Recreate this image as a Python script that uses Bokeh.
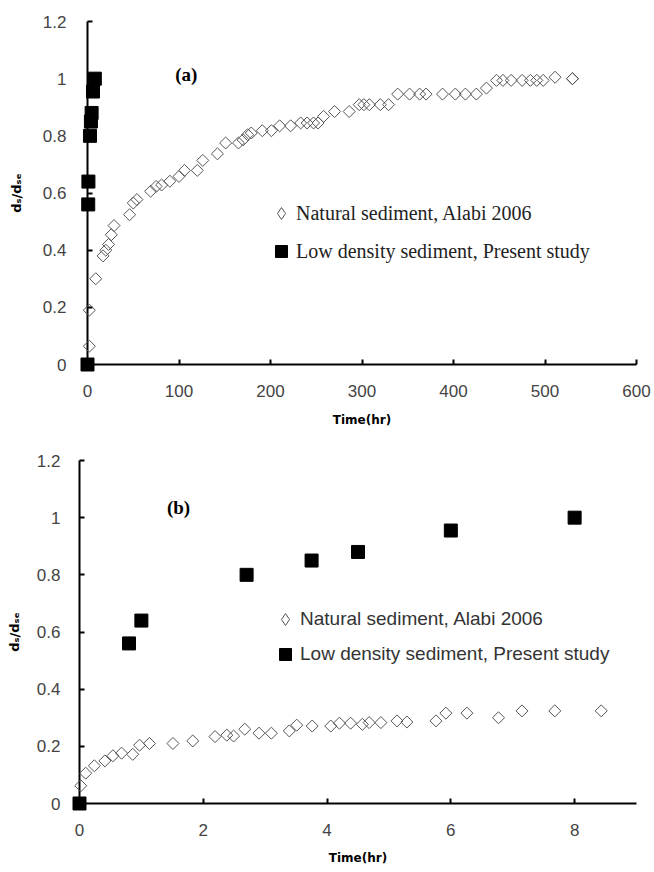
import numpy as np
from bokeh.plotting import figure
from bokeh.models import Range1d, FixedTicker, Legend, LegendItem, Label
from bokeh.embed import file_html
from bokeh.resources import INLINE

# ---------------- data ----------------
series_names = ["Natural sediment, Alabi 2006", "Low density sediment, Present study"]

# panel (a): natural sediment (hours, ds/dse)
nat_a_t = [2, 2, 9, 17, 20, 23, 26, 29, 46, 50, 54, 69, 75, 81, 90, 100, 106, 120, 126,
           142, 151, 165, 170, 175, 179, 191, 201, 210, 222, 233, 240, 247, 252, 258,
           270, 286, 297, 302, 308, 320, 329, 339, 352, 363, 370, 388, 402, 413, 425,
           436, 447, 454, 463, 475, 484, 491, 498, 511, 530, 530]
nat_a_y = [0.064, 0.19, 0.30, 0.38, 0.40, 0.42, 0.454, 0.486, 0.524, 0.565, 0.577, 0.606,
           0.623, 0.628, 0.641, 0.658, 0.679, 0.679, 0.714, 0.737, 0.775, 0.775, 0.786,
           0.804, 0.81, 0.818, 0.818, 0.835, 0.835, 0.845, 0.845, 0.845, 0.845, 0.868,
           0.885, 0.885, 0.909, 0.909, 0.909, 0.909, 0.909, 0.946, 0.946, 0.946, 0.946,
           0.946, 0.946, 0.946, 0.946, 0.967, 0.994, 0.994, 0.994, 0.994, 0.994, 0.994,
           0.994, 1.005, 1.0, 1.0]

# panel (b): natural sediment, first hours
nat_b_t = [0.02, 0.10, 0.24, 0.41, 0.54, 0.68, 0.86, 0.97, 1.13, 1.51, 1.83, 2.19, 2.38,
           2.49, 2.67, 2.90, 3.10, 3.39, 3.51, 3.76, 4.06, 4.20, 4.38, 4.57, 4.68, 4.87,
           5.13, 5.29, 5.76, 5.92, 6.26, 6.77, 7.15, 7.68, 8.43]
nat_b_y = [0.062, 0.106, 0.132, 0.149, 0.167, 0.176, 0.172, 0.204, 0.21, 0.21, 0.219,
           0.234, 0.239, 0.236, 0.26, 0.246, 0.246, 0.254, 0.274, 0.271, 0.271, 0.281,
           0.281, 0.277, 0.283, 0.283, 0.289, 0.285, 0.289, 0.316, 0.316, 0.30, 0.324,
           0.324, 0.324]

# low density sediment (present study)
low_t = [0, 0.8, 1.0, 2.7, 3.75, 4.5, 6.0, 8.0]
low_y = [0, 0.56, 0.64, 0.80, 0.85, 0.88, 0.955, 1.0]

y_ticks = [0, 0.2, 0.4, 0.6, 0.8, 1.0, 1.2]
y_tick_labels = ["0", "0.2", "0.4", "0.6", "0.8", "1", "1.2"]
x_ticks_a = [0, 100, 200, 300, 400, 500, 600]
x_ticks_b = [0, 2, 4, 6, 8]
x_end_a = 600
x_end_b = 9


def make_panel(nat_t, nat_y, x_end, x_ticks, height, border, y_std, y_title_std,
               x_std, x_title_std, leg_loc, leg_spacing, leg_standoff, leg_font,
               leg_size, leg_color, tag, tag_x, tag_y):
    left, right, top, bottom = border
    p = figure(width=654, height=height, x_range=Range1d(0, x_end),
               y_range=Range1d(0, 1.2), output_backend="svg", toolbar_location=None,
               min_border_left=left, min_border_right=right, min_border_top=top,
               min_border_bottom=bottom)
    p.grid.visible = False
    p.outline_line_color = None
    p.background_fill_color = "white"
    p.border_fill_color = "white"

    p.xaxis.ticker = FixedTicker(ticks=x_ticks)
    p.yaxis.ticker = FixedTicker(ticks=y_ticks)
    p.yaxis.major_label_overrides = {v: s for v, s in zip(y_ticks, y_tick_labels)}
    p.xaxis.axis_label = "Time(hr)"
    p.yaxis.axis_label = "d\u209b/d\u209b\u2091"
    for ax in (p.xaxis[0], p.yaxis[0]):
        ax.axis_line_width = 2
        ax.axis_line_color = "black"
        ax.major_tick_in = 5
        ax.major_tick_out = 0
        ax.major_tick_line_width = 2
        ax.major_tick_line_color = "black"
        ax.minor_tick_line_color = None
        ax.major_label_text_font = "Liberation Sans"
        ax.major_label_text_font_size = "17px"
        ax.major_label_text_color = "#444444"
        ax.axis_label_text_font = "DejaVu Sans"
        ax.axis_label_text_font_style = "bold"
        ax.axis_label_text_font_size = "12px"
        ax.axis_label_text_color = "black"
    p.yaxis.axis_label_text_font_size = "13px"
    p.yaxis.major_label_standoff = y_std
    p.yaxis.axis_label_standoff = y_title_std
    p.xaxis.major_label_standoff = x_std
    p.xaxis.axis_label_standoff = x_title_std

    p.scatter(nat_t, nat_y, marker="square", angle=np.pi / 4, size=8.5,
              fill_color=None, line_color="#555555", line_width=1, level="overlay")
    r_low = p.scatter(low_t, low_y, marker="square", size=13, fill_color="black",
                      line_color="black", level="overlay")
    # legend key only (not a data mark)
    r_key = p.scatter([np.nan], [np.nan], marker="diamond", size=12, fill_color=None,
                      line_color="#555555", line_width=1)

    legend = Legend(items=[LegendItem(label=series_names[0], renderers=[r_key]),
                           LegendItem(label=series_names[1], renderers=[r_low])],
                    location=leg_loc, glyph_width=30, glyph_height=30,
                    spacing=leg_spacing, padding=0, margin=0,
                    label_standoff=leg_standoff, border_line_color=None,
                    background_fill_alpha=0, label_text_font=leg_font,
                    label_text_font_size=leg_size, label_text_color=leg_color)
    p.add_layout(legend)

    p.add_layout(Label(x=tag_x, y=tag_y, text=tag, text_font="Liberation Serif",
                       text_font_style="bold", text_font_size="19px",
                       text_align="center", text_baseline="middle",
                       text_color="black"))
    return p


pa = make_panel(nat_a_t, nat_a_y, x_end_a, x_ticks_a, 440, (87, 18, 21, 76),
                21, 16, 20, 13, (179, 98), 8, -9, "Liberation Serif", "20px",
                "#222222", "(a)", 108, 1.014)
pb = make_panel(nat_b_t, nat_b_y, x_end_b, x_ticks_b, 432, (79, 18, 20, 69),
                19, 12, 20, 12, (191, 134), 5, -5, "Liberation Sans", "19px",
                "#333333", "(b)", 1.6, 1.037)

open("out.html", "w").write(file_html([pa, pb], INLINE))
